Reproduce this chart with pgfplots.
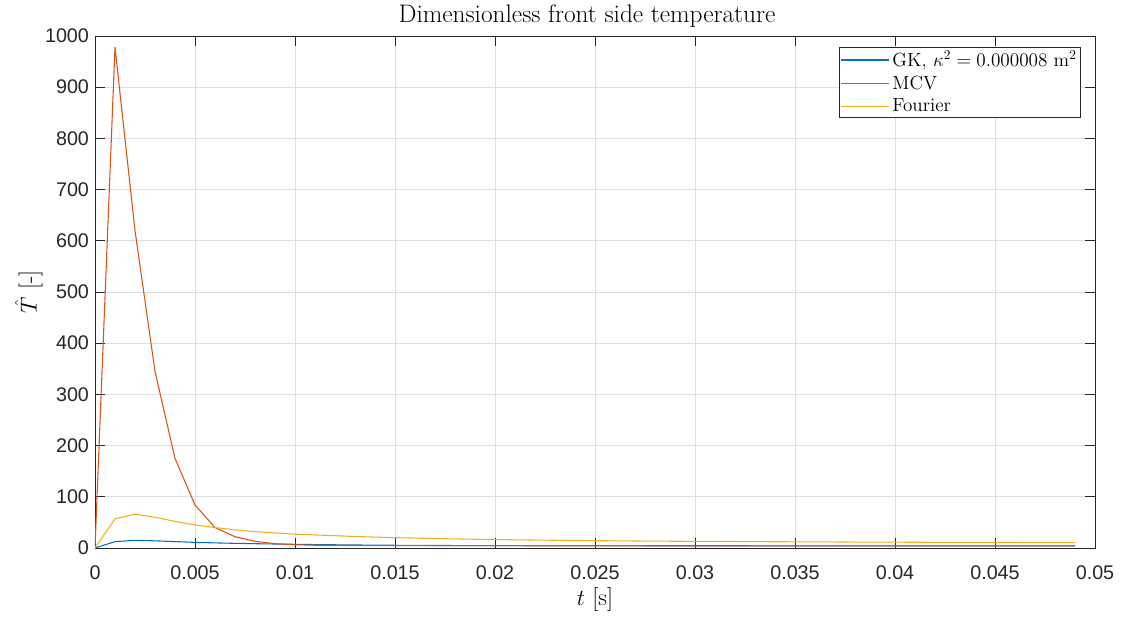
\documentclass[border=0pt]{standalone}
\usepackage{pgfplots}
\pgfplotsset{compat=1.18}
\usepackage{fontspec}
\newfontfamily\tickfont{Liberation Sans}
\definecolor{mblue}{rgb}{0,0.447,0.741}
\definecolor{morange}{rgb}{0.85,0.325,0.098}
\definecolor{myellow}{rgb}{0.929,0.694,0.125}
\definecolor{gridgray}{RGB}{223,223,223}
\definecolor{axgray}{rgb}{0.15,0.15,0.15}
\begin{document}
\begin{tikzpicture}
\begin{axis}[
  at={(0pt,0pt)}, anchor=south west,
  scale only axis, width=750pt, height=384pt,
  xmin=0, xmax=0.05, ymin=0, ymax=1000,
  xtick={0,0.005,0.01,0.015,0.02,0.025,0.03,0.035,0.04,0.045,0.05},
  xticklabels={0,0.005,0.01,0.015,0.02,0.025,0.03,0.035,0.04,0.045,0.05},
  ytick={0,100,200,300,400,500,600,700,800,900,1000},
  yticklabels={0,100,200,300,400,500,600,700,800,900,1000},
  scaled x ticks=false,
  /pgf/number format/assume math mode=true,
  ticklabel style={font=\tickfont\fontsize{14.8}{17}\selectfont, color=axgray},
  yticklabel style={xshift=-1pt},
  xticklabel style={yshift=-10pt},
  tick align=inside, major tick length=7.5pt,
  tick style={axgray, line width=0.6pt},
  axis line style={axgray, line width=0.6pt},
  grid=major, major grid style={gridgray, line width=0.6pt},
  title={Dimensionless front side temperature},
  title style={font=\fontsize{19}{22}\selectfont, yshift=-3pt, xshift=-6pt},
  xlabel={$t$ [s]},
  ylabel={$\hat{T}$ [-]},
  label style={font=\fontsize{18}{21}\selectfont},
  xlabel style={yshift=1pt},
  ylabel style={yshift=-5pt},
  legend style={at={(rel axis cs:0.986,0.979)}, anchor=north east,
    font=\fontsize{14.3}{17}\selectfont, draw=axgray, line width=0.6pt,
    inner xsep=1pt, inner ysep=1pt, row sep=1.5pt},
  legend cell align=left,
  legend image code/.code={\draw[#1, line width=0.9pt] (0pt,0pt) -- (36pt,0pt);},
  every axis plot/.append style={line width=0.8pt},
]
\addplot[mblue] table[row sep=\\] {
x y\\
0 0\\ 0.001 12.5\\ 0.002 15\\ 0.003 14\\ 0.004 12.5\\ 0.005 11\\ 0.006 10\\ 0.007 9.1\\ 0.008 8.4\\ 0.009 7.8\\
0.010 7.2\\ 0.011 6.7\\ 0.012 6.3\\ 0.013 5.9\\ 0.014 5.6\\ 0.015 5.3\\ 0.016 5.1\\ 0.017 4.9\\ 0.018 4.8\\ 0.019 4.7\\
0.020 4.7\\ 0.021 4.6\\ 0.022 4.6\\ 0.023 4.6\\ 0.024 4.5\\ 0.025 4.5\\ 0.026 4.5\\ 0.027 4.5\\ 0.028 4.4\\ 0.029 4.4\\
0.030 4.4\\ 0.031 4.4\\ 0.032 4.4\\ 0.033 4.3\\ 0.034 4.3\\ 0.035 4.3\\ 0.036 4.3\\ 0.037 4.3\\ 0.038 4.3\\ 0.039 4.2\\
0.040 4.2\\ 0.041 4.2\\ 0.042 4.2\\ 0.043 4.2\\ 0.044 4.2\\ 0.045 4.2\\ 0.046 4.1\\ 0.047 4.1\\ 0.048 4.1\\ 0.049 4.1\\
};
\addlegendentry{GK, $\kappa^2 = 0.000008$ m$^2$}
\addplot[morange] table[row sep=\\] {
x y\\
0 0\\ 0.001 978\\ 0.002 620\\ 0.003 345\\ 0.004 175\\ 0.005 84\\ 0.006 40\\ 0.007 22\\ 0.008 13\\ 0.009 8.5\\
0.010 6.3\\ 0.011 5.4\\ 0.012 5.0\\ 0.013 4.8\\ 0.014 4.7\\ 0.015 4.6\\ 0.016 4.6\\ 0.017 4.5\\ 0.018 4.5\\ 0.019 4.5\\
0.020 4.5\\ 0.021 4.5\\ 0.022 4.4\\ 0.023 4.4\\ 0.024 4.4\\ 0.025 4.4\\ 0.026 4.4\\ 0.027 4.4\\ 0.028 4.3\\ 0.029 4.3\\
0.030 4.3\\ 0.031 4.3\\ 0.032 4.3\\ 0.033 4.3\\ 0.034 4.3\\ 0.035 4.2\\ 0.036 4.2\\ 0.037 4.2\\ 0.038 4.2\\ 0.039 4.2\\
0.040 4.2\\ 0.041 4.2\\ 0.042 4.1\\ 0.043 4.1\\ 0.044 4.1\\ 0.045 4.1\\ 0.046 4.1\\ 0.047 4.1\\ 0.048 4.1\\ 0.049 4.0\\
};
\addlegendentry{MCV}
\addplot[myellow] table[row sep=\\] {
x y\\
0 0\\ 0.001 57\\ 0.002 66\\ 0.003 60\\ 0.004 52\\ 0.005 45\\ 0.006 40\\ 0.007 35.5\\ 0.008 32\\ 0.009 29.5\\
0.010 27\\ 0.011 25.5\\ 0.012 24\\ 0.013 22.5\\ 0.014 21.3\\ 0.015 20.2\\ 0.016 19.3\\ 0.017 18.5\\ 0.018 17.8\\ 0.019 17.1\\
0.020 16.5\\ 0.021 16.0\\ 0.022 15.5\\ 0.023 15.1\\ 0.024 14.7\\ 0.025 14.3\\ 0.026 14.0\\ 0.027 13.7\\ 0.028 13.4\\ 0.029 13.2\\
0.030 13.0\\ 0.031 12.8\\ 0.032 12.6\\ 0.033 12.4\\ 0.034 12.2\\ 0.035 12.1\\ 0.036 11.9\\ 0.037 11.8\\ 0.038 11.6\\ 0.039 11.5\\
0.040 11.4\\ 0.041 11.2\\ 0.042 11.1\\ 0.043 11.0\\ 0.044 10.9\\ 0.045 10.8\\ 0.046 10.7\\ 0.047 10.6\\ 0.048 10.5\\ 0.049 10.4\\
};
\addlegendentry{Fourier}
\end{axis}
\path[use as bounding box] (-71.25pt,-49.5pt) rectangle (770.25pt,411pt);
\end{tikzpicture}
\end{document}
